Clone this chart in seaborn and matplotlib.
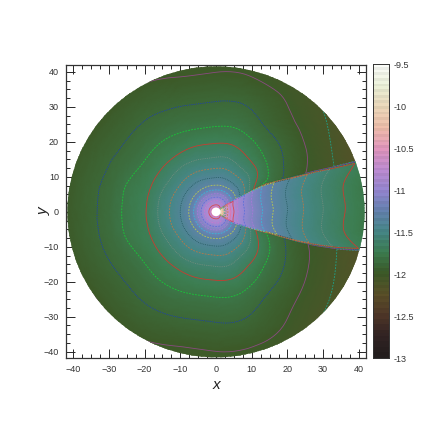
import numpy as np
import seaborn as sns
import matplotlib.pyplot as plt
import matplotlib.tri as mtri
from matplotlib.colors import ListedColormap
from matplotlib.patches import Circle

# values
radii = [1.3, 2, 2.5, 3.2, 4, 5.3, 6.5, 8, 10.3, 13, 16, 20, 25, 30, 35.5, 42, 46]
edge_upper = [35, 35, 35, 35, 34, 33, 33, 32, 31, 30.5, 29.5, 26.5, 24, 22.5, 21, 20, 19.5]
edge_lower = [34, 34, 34, 34, 33, 32, 31, 28, 26, 24, 22, 21, 20, 18.5, 17, 15, 14.5]

outer_edge = [-10.75, -10.9, -10.94, -11.0, -11.08, -11.2, -11.28, -11.4, -11.56, -11.74, -11.82, -11.89, -11.97, -12.03, -12.1, -12.18, -12.21]
outer_45 = [-10.72, -10.86, -10.9, -10.95, -11.03, -11.16, -11.25, -11.35, -11.47, -11.59, -11.69, -11.8, -11.89, -11.96, -12.03, -12.1, -12.14]
outer_60 = [-10.7, -10.82, -10.87, -10.92, -11.0, -11.13, -11.23, -11.33, -11.44, -11.55, -11.65, -11.75, -11.85, -11.93, -11.98, -12.05, -12.09]
outer_90 = [-10.68, -10.8, -10.85, -10.9, -10.98, -11.11, -11.22, -11.32, -11.42, -11.52, -11.61, -11.71, -11.81, -11.88, -11.95, -12.02, -12.05]
outer_135 = [-10.68, -10.8, -10.85, -10.9, -10.98, -11.11, -11.22, -11.32, -11.41, -11.51, -11.6, -11.71, -11.8, -11.87, -11.93, -12.0, -12.03]
outer_180 = [-10.68, -10.8, -10.85, -10.9, -10.98, -11.11, -11.22, -11.32, -11.41, -11.5, -11.59, -11.71, -11.78, -11.86, -11.92, -11.99, -12.02]

wedge_mid = [-9.95, -10.2, -10.4, -10.58, -10.68, -10.83, -10.92, -11.0, -11.1, -11.2, -11.3, -11.4, -11.51, -11.6, -11.69, -11.78, -11.83]
wedge_edge = [-9.93, -10.17, -10.36, -10.53, -10.63, -10.77, -10.86, -10.94, -11.04, -11.14, -11.24, -11.34, -11.45, -11.54, -11.62, -11.71, -11.77]

# rows going round from above the wedge to below it
outer_angles = [45, 60, 75, 90, 105, 120, 135, 150, 165, 180, 195, 210, 225, 240, 255, 270, 285, 300, 315]
outer_rows = [outer_45, outer_60, outer_90, outer_90, outer_90, outer_135, outer_135, outer_135, outer_180, outer_180,
              outer_180, outer_135, outer_135, outer_135, outer_90, outer_90, outer_90, outer_60, outer_45]

# increasing order, as contouring wants it
levels = [-12.1, -12.0, -11.9, -11.8, -11.7, -11.6, -11.5, -11.4, -11.3, -11.2, -11.1, -11.0,
          -10.9, -10.8, -10.7, -10.6, -10.5, -10.4, -10.3, -10.2]
level_colors = ['#20a088', '#8a4a80', '#1838c0', '#18c838', '#c83c30', '#7a9080', '#b87848', '#255a60',
                '#b8c850', '#38b8d8', '#a878d8', '#6070d8', '#c878d0', '#d84850', '#e070a8', '#c88050',
                '#4a8a88', '#50a870', '#50b8c8', '#d8d060']
dash = (0, (2.2, 1.4))
dot = (0, (1, 1.2))
level_styles = [dash, 'solid', dot, dash, 'solid', dot, dash, dot,
                dash, dash, dash, dash, dash, 'solid', 'solid', dash,
                dot, dash, dot, dot]

bar_anchors = ['#231e1e', '#322323', '#503728', '#5a5028', '#3c5a28', '#3c7d50', '#468787', '#6482af',
               '#9687d2', '#be8cd2', '#e196be', '#f0beaa', '#ebd7b9', '#ebf0d7', '#fafcf8']
bar_ticks = [-9.5, -10, -10.5, -11, -11.5, -12, -12.5, -13]
x_ticks = [-40, -30, -20, -10, 0, 10, 20, 30, 40]
y_ticks = [-40, -30, -20, -10, 0, 10, 20, 30, 40]

sns.set_theme(style='ticks')
plt.rcParams['font.family'] = ['Liberation Sans', 'DejaVu Sans']
cmap = sns.blend_palette(bar_anchors, as_cmap=True)
vmin, vmax = -13, -9.5


def grid_tri(x, y):
    # triangles of a structured rows x radii grid
    nrow, ncol = x.shape
    tris = []
    for i in range(nrow - 1):
        for j in range(ncol - 1):
            a = i * ncol + j
            tris.append([a, a + 1, a + ncol])
            tris.append([a + 1, a + ncol + 1, a + ncol])
    return mtri.Triangulation(x.ravel(), y.ravel(), np.array(tris))


def to_xy(angle_rows):
    ang = np.radians(np.array(angle_rows, dtype=float))
    r = np.array(radii)
    return r * np.cos(ang), r * np.sin(ang)


up = np.array(edge_upper, dtype=float)
low = np.array(edge_lower, dtype=float)
gap = 0.5

# outer region, running the long way round from wedge top to wedge bottom
out_ang = [up + gap] + [np.full(len(radii), a) for a in outer_angles] + [360 - low - gap]
out_z = np.array([outer_edge] + outer_rows + [outer_edge])
# wedge region
wed_ang = [-low + gap, -low / 2, 0 * up, up / 2, up - gap]
wed_z = np.array([wedge_edge, wedge_mid, wedge_mid, wedge_mid, wedge_edge])
# thin strips across the jump, they give the bunched lines along the wedge edge
top_ang = [up - gap, up + gap]
top_z = np.array([wedge_edge, outer_edge])
bot_ang = [-low - gap, -low + gap]
bot_z = np.array([outer_edge, wedge_edge])

fig = plt.figure(figsize=(4.32, 4.32), dpi=100)
ax = fig.add_axes([66 / 432, 74 / 432, 300 / 432, 293 / 432])
cax = fig.add_axes([373 / 432, 74 / 432, 16 / 432, 294 / 432])

disc = Circle((0, 0), 41.6, transform=ax.transData, fc='none', ec='none')
ax.add_patch(disc)
hole = Circle((0, 0), 1.25, fc='white', ec='none', zorder=5)
ax.add_patch(hole)

for angs, z, refine in [(out_ang, out_z, True), (wed_ang, wed_z, True),
                        (top_ang, top_z, False), (bot_ang, bot_z, False)]:
    x, y = to_xy(angs)
    tri = grid_tri(x, y)
    zz = z.ravel()
    if refine:
        tri, zz = mtri.UniformTriRefiner(tri).refine_field(zz, subdiv=3)
    pc = ax.tripcolor(tri, zz, shading='gouraud', cmap=cmap, vmin=vmin, vmax=vmax)
    pc.set_clip_path(disc)
    cs = ax.tricontour(tri, zz, levels=levels, colors=level_colors, linewidths=0.6,
                       linestyles=level_styles)
    cs.set_clip_path(disc)

ax.set_xlim(-42, 42)
ax.set_ylim(-41.8, 42)
ax.set_xticks(x_ticks)
ax.set_yticks(y_ticks)
ax.set_xticks(np.arange(-40, 41, 2.5), minor=True)
ax.set_yticks(np.arange(-40, 41, 2.5), minor=True)
ax.tick_params(which='major', direction='in', length=6.5, width=0.7, top=True, right=True,
               labelsize=6.5, labelcolor='#333333', pad=5)
ax.tick_params(which='minor', direction='in', length=3, width=0.7, top=True, right=True)
for s in ax.spines.values():
    s.set_linewidth(0.9)
    s.set_color('#333333')
ax.set_xlabel('x', style='italic', fontsize=11, labelpad=3, color='#222222')
ax.set_ylabel('y', style='italic', fontsize=11, labelpad=-5, color='#222222')

# colour bar strip, slightly banded as in the picture
steps = 105
strip = np.linspace(vmax, vmin, steps).reshape(-1, 1)
bands = cmap(np.linspace(0, 1, steps))
bands[1::2, :3] *= 0.95
sns.heatmap(strip, ax=cax, cmap=ListedColormap(bands), vmin=vmin, vmax=vmax, cbar=False,
            xticklabels=False, yticklabels=False)
cax.set_yticks([(vmax - v) / (vmax - vmin) * steps for v in bar_ticks])
cax.set_yticklabels(['-9.5', '-10', '-10.5', '-11', '-11.5', '-12', '-12.5', '-13'])
cax.yaxis.tick_right()
cax.tick_params(axis='y', direction='in', length=11.5, width=0.5, color='#333333',
                labelsize=6.5, labelcolor='#333333', pad=3)
for s in cax.spines.values():
    s.set_visible(True)
    s.set_linewidth(0.7)
    s.set_color('#333333')

fig.savefig('out.png', dpi=100)
